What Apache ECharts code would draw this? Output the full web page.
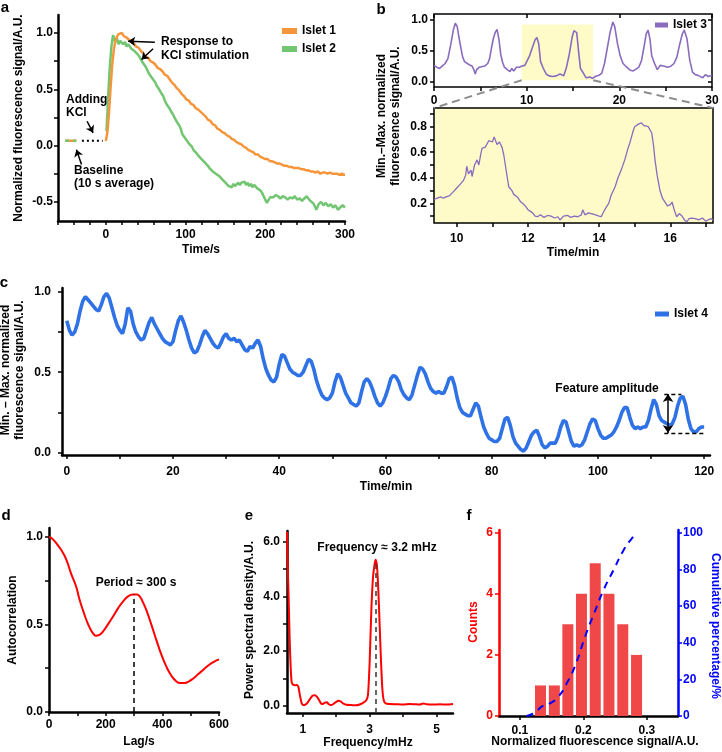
<!DOCTYPE html>
<html><head><meta charset="utf-8">
<script src="https://cdn.jsdelivr.net/npm/echarts@6/dist/echarts.min.js"></script>
<style>html,body{margin:0;padding:0;background:#fff}#c{width:722px;height:752px}</style>
</head><body><div id="c"></div>
<script>
// ---------- Panel a ----------
const aIslet1 = [[0,0.04],[2,0.12],[4,0.3],[6,0.52],[8,0.72],[10,0.85],[12,0.93],[14,0.97],[16,0.99],[18,1.0],[20,1.0],[23,0.97],[26,0.96],[29,0.94],[32,0.93],[35,0.91],[38,0.88],[41,0.87],[44,0.84],[47,0.82],[50,0.79],[53,0.78],[56,0.75],[59,0.74],[62,0.72],[65,0.69],[68,0.68],[71,0.66],[74,0.63],[77,0.62],[80,0.59],[83,0.56],[86,0.54],[89,0.51],[92,0.49],[95,0.46],[98,0.44],[101,0.41],[104,0.4],[107,0.37],[110,0.36],[113,0.33],[116,0.32],[119,0.3],[122,0.28],[125,0.26],[128,0.23],[131,0.22],[134,0.19],[137,0.18],[140,0.15],[143,0.14],[146,0.12],[149,0.11],[152,0.09],[155,0.08],[158,0.06],[161,0.05],[164,0.03],[167,0.02],[170,0.01],[173,-0.01],[176,-0.02],[179,-0.04],[182,-0.05],[185,-0.06],[188,-0.08],[191,-0.08],[194,-0.1],[197,-0.11],[200,-0.12],[203,-0.12],[206,-0.14],[209,-0.14],[212,-0.15],[215,-0.16],[218,-0.16],[221,-0.17],[224,-0.18],[227,-0.18],[230,-0.19],[233,-0.19],[236,-0.2],[239,-0.2],[242,-0.2],[245,-0.21],[248,-0.21],[251,-0.22],[254,-0.22],[257,-0.23],[260,-0.23],[263,-0.24],[266,-0.23],[269,-0.25],[272,-0.24],[275,-0.24],[278,-0.25],[281,-0.24],[284,-0.25],[287,-0.25],[290,-0.25],[293,-0.26],[296,-0.25],[299,-0.26],[300,-0.26]];
const aIslet2 = [[0.5,0.13],[1,0.15],[3,0.45],[5,0.7],[7,0.88],[9,0.98],[10,0.97],[12,0.92],[14,0.95],[16,0.9],[18,0.93],[20,0.94],[22,0.9],[24,0.92],[26,0.88],[28,0.9],[30,0.89],[32,0.86],[34,0.87],[36,0.84],[38,0.85],[40,0.81],[42,0.79],[44,0.8],[46,0.74],[48,0.73],[50,0.7],[52,0.69],[54,0.64],[56,0.63],[58,0.6],[60,0.58],[62,0.56],[64,0.53],[66,0.51],[68,0.5],[70,0.46],[72,0.44],[74,0.4],[76,0.37],[78,0.36],[80,0.33],[82,0.3],[84,0.28],[86,0.25],[88,0.24],[90,0.2],[92,0.18],[94,0.15],[96,0.1],[98,0.09],[100,0.06],[102,0.05],[104,0.02],[106,0.03],[108,-0.01],[110,-0.04],[112,-0.03],[114,-0.07],[116,-0.09],[118,-0.08],[120,-0.12],[122,-0.13],[124,-0.15],[126,-0.14],[128,-0.18],[130,-0.2],[132,-0.19],[134,-0.23],[136,-0.22],[138,-0.25],[140,-0.24],[142,-0.27],[144,-0.28],[146,-0.3],[148,-0.29],[150,-0.33],[152,-0.34],[154,-0.36],[156,-0.35],[158,-0.37],[160,-0.34],[162,-0.36],[164,-0.35],[166,-0.33],[168,-0.35],[170,-0.33],[172,-0.34],[174,-0.32],[176,-0.35],[178,-0.33],[180,-0.36],[182,-0.34],[184,-0.37],[186,-0.35],[188,-0.36],[190,-0.38],[192,-0.37],[194,-0.4],[196,-0.42],[198,-0.45],[200,-0.48],[202,-0.51],[204,-0.5],[206,-0.46],[208,-0.45],[210,-0.46],[213,-0.44],[216,-0.45],[219,-0.47],[222,-0.45],[225,-0.46],[228,-0.48],[231,-0.46],[234,-0.47],[237,-0.45],[240,-0.48],[243,-0.47],[246,-0.49],[249,-0.47],[252,-0.45],[255,-0.48],[258,-0.5],[261,-0.52],[264,-0.57],[267,-0.52],[270,-0.5],[273,-0.53],[276,-0.51],[279,-0.54],[282,-0.52],[285,-0.55],[288,-0.53],[291,-0.57],[294,-0.55],[297,-0.53],[300,-0.55]];
const aBaseline = [[-51,0.044],[-37,0.044]];
const aKclGap = [[-30,0.044],[-4,0.044]];
const aArrows = [[[61.5,0.918],[28,0.927]],[[59.3,0.86],[44.8,0.764]],[[-23.5,0.216],[-16,0.113]],[[-30.5,-0.169],[-36.9,-0.036]]];
const aXTicks = [0,100,200,300], aXMinor = [-60,-40,-20,20,40,60,80,120,140,160,180,220,240,260,280];
const aYTicks = [-0.5,0,0.5,1.0], aYMinor = [-0.25,0.25,0.75];

// ---------- Panel b ----------
const bIslet3 = [[0,0.27],[0.3,0.24],[0.6,0.22],[0.9,0.26],[1.2,0.3],[1.5,0.38],[1.8,0.6],[2.1,0.85],[2.3,0.95],[2.5,0.9],[2.7,0.72],[2.9,0.55],[3.1,0.4],[3.3,0.33],[3.5,0.3],[3.8,0.28],[4.1,0.26],[4.3,0.2],[4.45,0.13],[4.6,0.2],[4.9,0.24],[5.2,0.25],[5.5,0.26],[5.8,0.3],[6.0,0.38],[6.2,0.55],[6.4,0.7],[6.6,0.8],[6.8,0.85],[7.0,0.7],[7.2,0.45],[7.4,0.32],[7.6,0.24],[7.9,0.2],[8.2,0.17],[8.4,0.22],[8.6,0.18],[8.9,0.24],[9.2,0.24],[9.5,0.26],[9.8,0.27],[10.0,0.33],[10.3,0.42],[10.6,0.55],[10.9,0.68],[11.1,0.72],[11.3,0.62],[11.5,0.33],[11.8,0.22],[12.1,0.13],[12.4,0.1],[12.8,0.09],[13.2,0.1],[13.6,0.13],[14.0,0.1],[14.3,0.24],[14.6,0.45],[14.9,0.72],[15.1,0.83],[15.4,0.8],[15.6,0.5],[15.8,0.22],[16.1,0.15],[16.4,0.07],[16.8,0.08],[17.1,0.06],[17.4,0.09],[17.8,0.11],[18.1,0.14],[18.4,0.3],[18.7,0.55],[19.0,0.8],[19.3,0.97],[19.5,0.9],[19.8,0.62],[20.1,0.42],[20.4,0.3],[20.8,0.24],[21.2,0.19],[21.5,0.18],[21.8,0.21],[22.1,0.24],[22.4,0.35],[22.7,0.6],[22.9,0.78],[23.1,0.84],[23.3,0.7],[23.5,0.42],[23.8,0.3],[24.1,0.2],[24.4,0.27],[24.8,0.26],[25.2,0.24],[25.5,0.25],[25.9,0.3],[26.2,0.4],[26.5,0.6],[26.8,0.78],[27.0,0.84],[27.3,0.7],[27.6,0.35],[27.9,0.16],[28.2,0.12],[28.6,0.1],[29.0,0.07],[29.3,0.12],[29.6,0.09],[30,0.11]];
const bZoomRange = [[9.46,0.03],[17.18,0.93]];
const bIslet3Zoom = [[9.36,0.23],[9.45,0.24],[9.55,0.25],[9.62,0.24],[9.7,0.25],[9.8,0.26],[9.9,0.29],[10.0,0.32],[10.1,0.35],[10.19,0.38],[10.25,0.42],[10.28,0.49],[10.33,0.43],[10.4,0.46],[10.43,0.41],[10.5,0.5],[10.57,0.54],[10.62,0.5],[10.67,0.58],[10.71,0.63],[10.8,0.64],[10.9,0.69],[10.95,0.7],[11.0,0.68],[11.05,0.72],[11.09,0.73],[11.13,0.66],[11.2,0.68],[11.27,0.64],[11.32,0.58],[11.37,0.49],[11.42,0.4],[11.46,0.33],[11.55,0.3],[11.6,0.27],[11.7,0.25],[11.8,0.21],[11.89,0.19],[11.95,0.17],[12.0,0.15],[12.08,0.135],[12.15,0.12],[12.2,0.1],[12.27,0.095],[12.35,0.11],[12.45,0.09],[12.55,0.105],[12.65,0.1],[12.75,0.085],[12.84,0.095],[12.9,0.07],[13.0,0.1],[13.12,0.105],[13.2,0.09],[13.3,0.1],[13.4,0.095],[13.5,0.11],[13.54,0.15],[13.6,0.11],[13.7,0.125],[13.78,0.12],[13.9,0.11],[14.0,0.1],[14.06,0.095],[14.12,0.13],[14.2,0.17],[14.27,0.2],[14.34,0.265],[14.45,0.33],[14.53,0.4],[14.62,0.46],[14.72,0.54],[14.8,0.62],[14.86,0.67],[14.91,0.72],[14.96,0.77],[15.0,0.8],[15.05,0.8],[15.1,0.82],[15.19,0.83],[15.25,0.81],[15.3,0.82],[15.38,0.8],[15.44,0.77],[15.48,0.75],[15.53,0.65],[15.57,0.54],[15.63,0.42],[15.71,0.3],[15.78,0.24],[15.85,0.21],[15.92,0.18],[16.0,0.19],[16.05,0.21],[16.12,0.14],[16.18,0.095],[16.25,0.12],[16.33,0.1],[16.4,0.07],[16.46,0.055],[16.53,0.08],[16.6,0.085],[16.7,0.08],[16.8,0.07],[16.9,0.085],[17.0,0.06],[17.06,0.07],[17.15,0.08],[17.2,0.07]];
const b1XTicks = [0,10,20,30], b1XMinor = [5,15,25], b1YTicks = [0,0.5,1.0];
const b2XTicks = [10,12,14,16], b2XMinor = [11,13,15,17], b2YTicks = [0.2,0.4,0.6,0.8], b2YMinor = [0.1,0.3,0.5,0.7,0.9];

// ---------- Panel c ----------
const cIslet4 = [[0,0.82],[0.5,0.76],[1,0.73],[1.5,0.75],[2,0.8],[2.5,0.88],[3,0.94],[3.5,0.97],[4,0.95],[4.5,0.93],[5,0.91],[5.5,0.89],[6,0.88],[6.5,0.92],[7,0.97],[7.5,0.99],[8,0.96],[8.5,0.9],[9,0.84],[9.5,0.79],[10,0.76],[10.5,0.74],[11,0.8],[11.5,0.9],[12,0.88],[12.5,0.8],[13,0.75],[13.5,0.72],[14,0.7],[14.5,0.71],[15,0.76],[15.5,0.81],[16,0.84],[16.5,0.8],[17,0.77],[17.5,0.74],[18,0.71],[18.5,0.69],[19,0.68],[19.5,0.67],[20,0.69],[20.5,0.76],[21,0.82],[21.5,0.85],[22,0.81],[22.5,0.76],[23,0.7],[23.5,0.65],[24,0.62],[24.5,0.63],[25,0.67],[25.5,0.72],[26,0.76],[26.5,0.74],[27,0.71],[27.5,0.68],[28,0.66],[28.5,0.65],[29,0.68],[29.5,0.72],[30,0.74],[30.5,0.71],[31,0.7],[31.5,0.71],[32,0.69],[32.5,0.7],[33,0.67],[33.5,0.64],[34,0.63],[34.5,0.66],[35,0.65],[35.5,0.68],[36,0.7],[36.5,0.66],[37,0.58],[37.5,0.52],[38,0.48],[38.5,0.45],[39,0.44],[39.5,0.47],[40,0.55],[40.5,0.61],[41,0.6],[41.5,0.56],[42,0.52],[42.5,0.5],[43,0.49],[43.5,0.48],[44,0.48],[44.5,0.5],[45,0.54],[45.5,0.58],[46,0.57],[46.5,0.52],[47,0.45],[47.5,0.4],[48,0.36],[48.5,0.34],[49,0.33],[49.5,0.34],[50,0.37],[50.5,0.44],[51,0.49],[51.5,0.47],[52,0.42],[52.5,0.37],[53,0.34],[53.5,0.31],[54,0.3],[54.5,0.29],[55,0.31],[55.5,0.38],[56,0.44],[56.5,0.46],[57,0.44],[57.5,0.4],[58,0.35],[58.5,0.31],[59,0.29],[59.5,0.31],[60,0.35],[60.5,0.4],[61,0.46],[61.5,0.48],[62,0.47],[62.5,0.44],[63,0.39],[63.5,0.36],[64,0.34],[64.5,0.33],[65,0.36],[65.5,0.42],[66,0.48],[66.5,0.53],[67,0.52],[67.5,0.49],[68,0.44],[68.5,0.4],[69,0.38],[69.5,0.37],[70,0.38],[70.5,0.37],[71,0.37],[71.5,0.41],[72,0.46],[72.5,0.47],[73,0.42],[73.5,0.34],[74,0.28],[74.5,0.25],[75,0.24],[75.5,0.23],[76,0.23],[76.5,0.27],[77,0.31],[77.5,0.29],[78,0.22],[78.5,0.16],[79,0.12],[79.5,0.09],[80,0.08],[80.5,0.07],[81,0.07],[81.5,0.09],[82,0.15],[82.5,0.21],[83,0.22],[83.5,0.17],[84,0.1],[84.5,0.06],[85,0.04],[85.5,0.02],[86,0.01],[86.5,0.03],[87,0.07],[87.5,0.11],[88,0.13],[88.5,0.14],[89,0.1],[89.5,0.05],[90,0.03],[90.5,0.04],[91,0.06],[91.5,0.06],[92,0.06],[92.5,0.1],[93,0.16],[93.5,0.2],[94,0.19],[94.5,0.13],[95,0.07],[95.5,0.04],[96,0.05],[96.5,0.04],[97,0.05],[97.5,0.08],[98,0.13],[98.5,0.18],[99,0.21],[99.5,0.2],[100,0.15],[100.5,0.11],[101,0.09],[101.5,0.09],[102,0.1],[102.5,0.11],[103,0.13],[103.5,0.16],[104,0.2],[104.5,0.25],[105,0.28],[105.5,0.28],[106,0.22],[106.5,0.17],[107,0.15],[107.5,0.16],[108,0.15],[108.5,0.16],[109,0.16],[109.5,0.2],[110,0.27],[110.5,0.33],[111,0.3],[111.5,0.23],[112,0.2],[112.5,0.19],[113,0.18],[113.5,0.17],[114,0.18],[114.5,0.22],[115,0.29],[115.5,0.34],[116,0.35],[116.5,0.3],[117,0.21],[117.5,0.15],[118,0.13],[118.5,0.13],[119,0.15],[119.5,0.16],[120,0.16]];
const cFeature = {xStart:112.5, xUpperEnd:115.7, xLowerEnd:120, xArrow:113.2, top:0.365, bottom:0.122};
const cXTicks = [0,20,40,60,80,100,120], cXMinor = [10,30,50,70,90,110], cYTicks = [0,0.5,1.0], cYMinor = [0.25,0.75];

// ---------- Panel d ----------
const dAutocorr = [[0,1.0],[14,0.985],[32,0.95],[45,0.92],[61,0.87],[78,0.79],[96,0.715],[108,0.64],[120,0.58],[132,0.525],[144,0.48],[155,0.45],[165,0.435],[178,0.44],[191,0.46],[208,0.5],[226,0.545],[243,0.59],[261,0.63],[279,0.66],[296,0.67],[310,0.67],[320,0.66],[332,0.625],[344,0.58],[361,0.5],[379,0.41],[396,0.33],[414,0.26],[431,0.21],[449,0.175],[464,0.165],[479,0.165],[494,0.175],[508,0.19],[526,0.215],[544,0.24],[562,0.265],[580,0.285],[600,0.3]];
const dPeriod = [300, 0.67];
const dXTicks = [0,200,400,600], dXMinor = [100,300,500], dYTicks = [0,0.5,1.0], dYMinor = [0.25,0.75];

// ---------- Panel e ----------
const ePsd = [[0.53,6.37],[0.55,5.2],[0.58,3.9],[0.61,2.4],[0.64,1.4],[0.67,0.85],[0.72,0.76],[0.78,0.75],[0.83,0.76],[0.87,0.68],[0.92,0.35],[0.97,0.08],[1.02,0.02],[1.08,0.04],[1.15,0.12],[1.22,0.25],[1.3,0.37],[1.36,0.38],[1.42,0.33],[1.49,0.2],[1.55,0.08],[1.6,0.06],[1.66,0.11],[1.72,0.12],[1.78,0.05],[1.84,0.02],[1.92,0.06],[2.0,0.14],[2.07,0.18],[2.14,0.15],[2.22,0.07],[2.3,0.03],[2.45,0.02],[2.6,0.01],[2.7,0.04],[2.8,0.1],[2.9,0.2],[2.95,0.4],[3.0,1.6],[3.05,3.5],[3.1,4.7],[3.15,5.2],[3.18,5.35],[3.22,5.1],[3.26,4.2],[3.3,2.9],[3.34,1.6],[3.38,0.6],[3.42,0.2],[3.48,0.08],[3.6,0.06],[3.8,0.05],[4.0,0.04],[4.2,0.06],[4.35,0.05],[4.5,0.04],[4.6,0.08],[4.7,0.05],[4.9,0.04],[5.1,0.05],[5.3,0.04],[5.49,0.06]];
const ePeak = [3.18, 5.3];
const eXTicks = [1,3,5], eXMinor = [2,4], eYTicks = [0,2,4,6], eYMinor = [1,3,5];

// ---------- Panel f ----------
const fBinCenters = [0.1324,0.1542,0.1755,0.1969,0.2186,0.2402,0.262,0.2837];
const fCounts = [1,1,3,4,5,4,3,2];
const fCumulative = [[0.1105,0],[0.1237,1.8],[0.1342,5.1],[0.1474,6.9],[0.1605,10.5],[0.1737,17.8],[0.1884,28.7],[0.2026,43.3],[0.2168,56],[0.2316,68.7],[0.2474,79.6],[0.2632,90.5],[0.2763,96.9],[0.2842,100]];
const fXTicks = [0.1,0.2,0.3], fYTicks = [0,2,4,6], fY2Ticks = [0,20,40,60,80,100];

// ---------- Styles ----------
const FONT = '"Liberation Sans", Arial, Helvetica, sans-serif';
const ORANGE = '#F5963C', GREEN = '#72C672', PURPLE = '#8A6BBE', BLUE = '#2E72E6', RED = '#FF0000', DBLUE = '#0000FF';
const f1 = v => v.toFixed(1), f0 = v => String(Math.round(v));

function vAxis(o) {
  const c = o.color || '#000';
  return {
    type: 'value', gridIndex: o.g, position: o.pos, min: o.min, max: o.max,
    axisLine: {show: o.line !== false, onZero: false, lineStyle: {color: c, width: o.lw || 2.5}},
    axisTick: {show: o.tick !== false, inside: !!o.inside, length: o.tl || 4, lineStyle: {color: c, width: 1.5}, customValues: o.ticks || []},
    axisLabel: {show: !!o.labels, customValues: o.labels || [], formatter: o.fmt || f0, color: c,
      fontFamily: FONT, fontWeight: 'bold', fontSize: 12, margin: o.margin == null ? 6 : o.margin},
    splitLine: {show: false}
  };
}
function txt(x, y, text, o) {
  o = o || {};
  return {type: 'text', x: x, y: y, rotation: o.rot || 0, z: 100, silent: true,
    style: {text: text, fill: o.color || '#000', fontFamily: FONT, fontWeight: 'bold', fontSize: o.size || 12,
      align: o.align || 'center', verticalAlign: 'middle', lineHeight: o.lh || 14}};
}
const legendText = {fontFamily: FONT, fontWeight: 'bold', fontSize: 12, color: '#000'};
const lineBase = {type: 'line', showSymbol: false, symbol: 'none', animation: false, silent: true};

const chart = echarts.init(document.getElementById('c'));
const option = {
  animation: false,
  backgroundColor: '#fff',
  grid: [
    {left: 58, top: 15, width: 287, height: 206, outerBoundsMode: 'none'},
    {left: 434, top: 14, width: 278, height: 73, show: true, borderColor: '#000', borderWidth: 1.5, backgroundColor: 'rgba(0,0,0,0)', outerBoundsMode: 'none'},
    {left: 434, top: 108, width: 279, height: 115, show: true, borderColor: '#000', borderWidth: 1.5, backgroundColor: '#FFFBC9', outerBoundsMode: 'none'},
    {left: 62, top: 288, width: 648, height: 167, outerBoundsMode: 'none'},
    {left: 49, top: 528, width: 170, height: 184, outerBoundsMode: 'none'},
    {left: 287, top: 531, width: 166, height: 182, outerBoundsMode: 'none'},
    {left: 499, top: 530, width: 179, height: 186, outerBoundsMode: 'none'}
  ],
  xAxis: [
    vAxis({g: 0, pos: 'bottom', min: -60, max: 300, ticks: aXTicks.concat(aXMinor), labels: aXTicks, margin: 8}),
    vAxis({g: 1, pos: 'bottom', min: 0, max: 30, line: false, ticks: b1XTicks.concat(b1XMinor), labels: b1XTicks, margin: 8}),
    vAxis({g: 2, pos: 'bottom', min: 9.36, max: 17.2, line: false, ticks: b2XTicks.concat(b2XMinor), labels: b2XTicks, margin: 10}),
    vAxis({g: 3, pos: 'bottom', min: -0.9, max: 121.1, ticks: cXTicks.concat(cXMinor), labels: cXTicks, margin: 11}),
    vAxis({g: 4, pos: 'bottom', min: 0, max: 600, ticks: dXTicks.concat(dXMinor), labels: dXTicks, margin: 7}),
    vAxis({g: 5, pos: 'bottom', min: 0.53, max: 5.49, ticks: eXTicks.concat(eXMinor), labels: eXTicks, margin: 11}),
    vAxis({g: 6, pos: 'bottom', min: 0.067, max: 0.349, ticks: fXTicks, labels: fXTicks, fmt: f1, margin: 9}),
    vAxis({g: 1, pos: 'top', min: 0, max: 30, line: false, inside: true, ticks: b1XTicks})
  ],
  yAxis: [
    vAxis({g: 0, pos: 'left', min: -0.67, max: 1.16, ticks: aYTicks.concat(aYMinor), labels: aYTicks, fmt: f1, margin: 5}),
    vAxis({g: 1, pos: 'left', min: -0.08, max: 1.1, line: false, ticks: b1YTicks, labels: b1YTicks, fmt: f1, margin: 6}),
    vAxis({g: 2, pos: 'left', min: 0.046, max: 0.946, line: false, ticks: b2YTicks.concat(b2YMinor), labels: b2YTicks, fmt: f1, margin: 7}),
    vAxis({g: 3, pos: 'left', min: -0.014, max: 1.023, ticks: cYTicks.concat(cYMinor), labels: cYTicks, fmt: f1, margin: 11}),
    vAxis({g: 4, pos: 'left', min: 0, max: 1.05, ticks: dYTicks.concat(dYMinor), labels: dYTicks, fmt: f1, margin: 6}),
    vAxis({g: 5, pos: 'left', min: -0.27, max: 6.4, ticks: eYTicks.concat(eYMinor), labels: eYTicks, fmt: f1, margin: 7}),
    vAxis({g: 6, pos: 'left', min: 0, max: 6.09, color: RED, ticks: fYTicks, labels: fYTicks, margin: 6}),
    vAxis({g: 6, pos: 'right', min: 0, max: 101.5, color: DBLUE, ticks: fY2Ticks, labels: fY2Ticks, margin: 5}),
    vAxis({g: 1, pos: 'right', min: -0.08, max: 1.1, line: false, inside: true, ticks: b1YTicks})
  ],
  legend: [
    {data: ['Islet 1', 'Islet 2'], left: 277, top: 20, orient: 'vertical', icon: 'rect', itemWidth: 15, itemHeight: 6, itemGap: 6, selectedMode: false, textStyle: legendText},
    {data: ['Islet 3'], left: 650, top: 14, icon: 'rect', itemWidth: 13, itemHeight: 5, selectedMode: false, textStyle: legendText},
    {data: ['Islet 4'], left: 650, top: 303, icon: 'rect', itemWidth: 14, itemHeight: 5, selectedMode: false, textStyle: legendText}
  ],
  series: [
    Object.assign({}, lineBase, {name: 'Islet 2', xAxisIndex: 0, yAxisIndex: 0, data: aIslet2, color: GREEN, lineStyle: {width: 2.5}}),
    Object.assign({}, lineBase, {name: 'Islet 1', xAxisIndex: 0, yAxisIndex: 0, data: aIslet1, color: ORANGE, lineStyle: {width: 2.5}}),
    Object.assign({}, lineBase, {name: 'baseline1', xAxisIndex: 0, yAxisIndex: 0, data: aBaseline, color: ORANGE, lineStyle: {width: 2.5}}),
    Object.assign({}, lineBase, {name: 'baseline2', xAxisIndex: 0, yAxisIndex: 0, data: aBaseline, color: GREEN, lineStyle: {width: 2.5, type: [4, 4]}}),
    Object.assign({}, lineBase, {name: 'kcl', xAxisIndex: 0, yAxisIndex: 0, data: aKclGap, color: '#000', lineStyle: {width: 2, type: [2, 3]},
      markLine: {silent: true, animation: false, symbol: ['none', 'arrow'], symbolSize: 7, label: {show: false},
        lineStyle: {color: '#000', width: 1.5, type: 'solid'},
        data: aArrows.map(p => [{coord: p[0]}, {coord: p[1]}])}}),
    Object.assign({}, lineBase, {name: 'Islet 3', xAxisIndex: 1, yAxisIndex: 1, data: bIslet3, color: PURPLE, lineStyle: {width: 1.6},
      markArea: {silent: true, itemStyle: {color: '#FFFBC9'}, data: [[{coord: bZoomRange[0]}, {coord: bZoomRange[1]}]]}}),
    Object.assign({}, lineBase, {name: 'Islet 3 zoom', xAxisIndex: 2, yAxisIndex: 2, data: bIslet3Zoom, color: PURPLE, lineStyle: {width: 1.3}}),
    Object.assign({}, lineBase, {name: 'Islet 4', xAxisIndex: 3, yAxisIndex: 3, data: cIslet4, color: BLUE, lineStyle: {width: 3.6},
      markLine: {silent: true, animation: false, symbol: 'none', symbolSize: 8, label: {show: false},
        lineStyle: {color: '#000', width: 1.3, type: [4, 3]},
        data: [
          [{coord: [cFeature.xStart, cFeature.top]}, {coord: [cFeature.xUpperEnd, cFeature.top]}],
          [{coord: [cFeature.xStart, cFeature.bottom]}, {coord: [cFeature.xLowerEnd, cFeature.bottom]}],
          [{coord: [cFeature.xArrow, cFeature.bottom], symbol: 'arrow', lineStyle: {type: 'solid', width: 1.5, color: '#000'}},
           {coord: [cFeature.xArrow, cFeature.top], symbol: 'arrow'}]
        ]}}),
    Object.assign({}, lineBase, {name: 'Autocorrelation', xAxisIndex: 4, yAxisIndex: 4, data: dAutocorr, smooth: true, color: RED, lineStyle: {width: 2}, z: 3,
      markLine: {silent: true, animation: false, symbol: 'none', label: {show: false}, lineStyle: {color: '#000', width: 1.5, type: [5, 4]},
        data: [[{coord: [dPeriod[0], 0]}, {coord: [dPeriod[0], dPeriod[1]]}]]}}),
    Object.assign({}, lineBase, {name: 'PSD', xAxisIndex: 5, yAxisIndex: 5, data: ePsd, smooth: 0.2, color: RED, lineStyle: {width: 2},
      markLine: {silent: true, animation: false, symbol: 'none', label: {show: false}, lineStyle: {color: '#333', width: 1.5, type: [5, 4]},
        data: [[{coord: [ePeak[0], -0.27]}, {coord: [ePeak[0], ePeak[1]]}]]}}),
    {type: 'bar', name: 'Counts', xAxisIndex: 6, yAxisIndex: 6, animation: false, silent: true, barWidth: 11,
      itemStyle: {color: '#F04848'}, data: fBinCenters.map((x, i) => [x, fCounts[i]])},
    Object.assign({}, lineBase, {name: 'Cumulative', xAxisIndex: 6, yAxisIndex: 7, data: fCumulative, smooth: true, color: DBLUE, lineStyle: {width: 2, type: [7, 6]}})
  ]
};
chart.setOption(option);

// zoom connector lines for panel b, computed through the axes
const pA = chart.convertToPixel({xAxisIndex: 1, yAxisIndex: 1}, [bZoomRange[0][0], bZoomRange[0][1]]);
const pB = chart.convertToPixel({xAxisIndex: 1, yAxisIndex: 1}, [bZoomRange[1][0], bZoomRange[0][1]]);
const pC = chart.convertToPixel({xAxisIndex: 2, yAxisIndex: 2}, [9.36, 0.946]);
const pD = chart.convertToPixel({xAxisIndex: 2, yAxisIndex: 2}, [17.2, 0.946]);
const dashStyle = {stroke: '#8C8C8C', lineWidth: 2, lineDash: [8, 5]};

chart.setOption({graphic: [
  {type: 'line', z: 50, silent: true, shape: {x1: pA[0], y1: pA[1], x2: pC[0], y2: pC[1]}, style: dashStyle},
  {type: 'line', z: 50, silent: true, shape: {x1: pB[0], y1: pB[1], x2: pD[0], y2: pD[1]}, style: dashStyle},
  // panel letters
  txt(5, 8, 'a', {size: 15}), txt(381, 10, 'b', {size: 15}), txt(4, 283, 'c', {size: 15}),
  txt(6, 516, 'd', {size: 15}), txt(249, 516, 'e', {size: 15}), txt(469, 516, 'f', {size: 15}),
  // axis titles
  txt(19, 118, 'Normalized fluorescence signal/A.U.', {rot: Math.PI / 2}),
  txt(201, 250, 'Time/s'),
  txt(389, 116, 'Min.\u2013Max. normalized\nfluorescence signal/A.U.', {rot: Math.PI / 2}),
  txt(573, 253, 'Time/min'),
  txt(12.5, 370, 'Min. \u2013 Max. normalized\nfluorescence signal/A.U.', {rot: Math.PI / 2}),
  txt(386, 487, 'Time/min'),
  txt(13, 620, 'Autocorrelation', {rot: Math.PI / 2}),
  txt(139, 742, 'Lag/s'),
  txt(250, 620, 'Power spectral density/A.U.', {rot: Math.PI / 2}),
  txt(368, 743, 'Frequency/mHz'),
  txt(474, 622, 'Counts', {rot: Math.PI / 2, color: RED}),
  txt(715, 626, 'Cumulative percentage/%', {rot: -Math.PI / 2, color: DBLUE}),
  txt(595, 742, 'Normalized fluorescence signal/A.U.'),
  // annotations
  txt(161, 42, 'Response to', {align: 'left'}),
  txt(161, 56, 'KCl stimulation', {align: 'left'}),
  txt(66, 100, 'Adding', {align: 'left'}),
  txt(66, 113, 'KCl', {align: 'left'}),
  txt(74, 171, 'Baseline', {align: 'left'}),
  txt(74, 184, '(10 s average)', {align: 'left'}),
  txt(607, 389, 'Feature amplitude'),
  txt(136, 583, 'Period \u2248 300 s'),
  txt(377, 548, 'Frequency \u2248 3.2 mHz')
]});
</script></body></html>
